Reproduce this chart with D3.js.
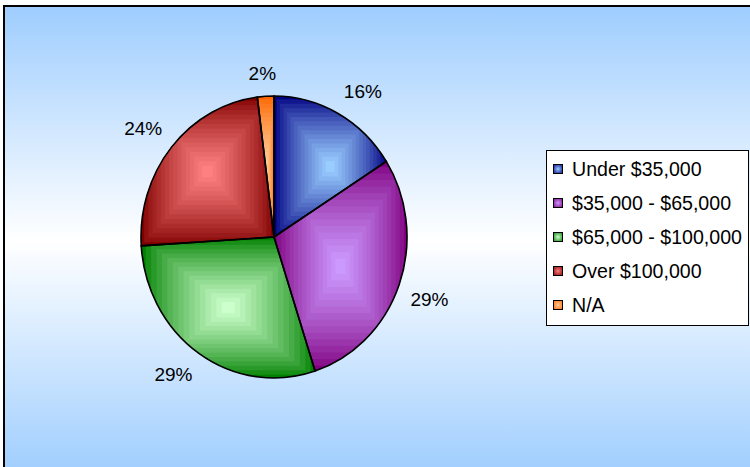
<!DOCTYPE html>
<html>
<head>
<meta charset="utf-8">
<script src="https://cdn.jsdelivr.net/npm/d3@7"></script>
<style>
  html, body { margin: 0; padding: 0; background: #fff; }
  svg { display: block; font-family: "Liberation Sans", Arial, sans-serif; }
</style>
</head>
<body>
<svg id="chart" width="750" height="467"></svg>
<script>
// data
var categories = ["Under $35,000", "$35,000 - $65,000", "$65,000 - $100,000", "Over $100,000", "N/A"];
var values = [16, 29, 29, 24, 2];
var pctLabels = ["16%", "29%", "29%", "24%", "2%"];

// slice colours: dark at the edge, light in the middle
var edgeCols = ["#000080", "#800080", "#008000", "#800000", "#ff6600"];
var midCols = ["#99ccff", "#cc99ff", "#ccffcc", "#ff8080", "#ffcc99"];

var svg = d3.select("#chart");
var defs = svg.append("defs");

var bg = defs.append("linearGradient")
    .attr("id", "bg").attr("x1", 0).attr("y1", 0).attr("x2", 0).attr("y2", 1);
bg.append("stop").attr("offset", "0%").attr("stop-color", "#9ecdfe");
bg.append("stop").attr("offset", "50%").attr("stop-color", "#ffffff");
bg.append("stop").attr("offset", "100%").attr("stop-color", "#9ecdfe");

svg.append("rect")
    .attr("x", 4).attr("y", 6).attr("width", 770).attr("height", 470)
    .style("fill", "url(#bg)")
    .style("stroke", "#000")
    .style("stroke-width", 2);

var cx = 274, cy = 237, rx = 133, ry = 141;

var pie = d3.pie().sort(null).value(function(d) { return d; });
var arcs = pie(values);
var arc = d3.arc().innerRadius(0).outerRadius(rx);

var g = svg.append("g")
    .attr("transform", "translate(" + cx + "," + cy + ") scale(1," + (ry / rx) + ")");

var nBands = 16;

arcs.forEach(function(d, i) {
    var clipId = "clip" + i;
    defs.append("clipPath").attr("id", clipId)
	.append("path").attr("d", arc(d));
    // bounding box of the slice, sampled along the arc
    var xs = [0], ys = [0];
    for (var k = 0; k <= 60; k++) {
	var a = d.startAngle + (d.endAngle - d.startAngle) * k / 60;
	xs.push(rx * Math.sin(a));
	ys.push(-rx * Math.cos(a));
    }
    var x0 = d3.min(xs), x1 = d3.max(xs), y0 = d3.min(ys), y1 = d3.max(ys);
    var mx = (x0 + x1) / 2, my = (y0 + y1) / 2;
    var col = d3.interpolateRgb(edgeCols[i], midCols[i]);
    var sg = g.append("g").attr("clip-path", "url(#" + clipId + ")");
    d3.range(nBands).forEach(function(b) {
	var t = b / nBands;
	var w = (x1 - x0) * (1 - t), h = (y1 - y0) * (1 - t);
	sg.append("rect")
	    .attr("x", mx - w / 2 - 1).attr("y", my - h / 2 - 1)
	    .attr("width", w + 2).attr("height", h + 2)
	    .style("fill", col(Math.pow(b / (nBands - 1), 0.8)));
    });
});

g.selectAll("path.slice")
    .data(arcs)
    .enter().append("path")
    .attr("class", "slice")
    .attr("d", arc)
    .style("fill", "none")
    .style("stroke", "#000")
    .style("stroke-width", 1.6)
    .attr("vector-effect", "non-scaling-stroke");

// percentage labels: box pushed out from the rim like excel does
function clamp(v) { return Math.max(-1, Math.min(1, v)); }
var gap = 12, halfH = 11;
svg.selectAll("text.pct")
    .data(arcs)
    .enter().append("text")
    .attr("class", "pct")
    .attr("text-anchor", "middle")
    .attr("dominant-baseline", "central")
    .style("font-size", "19px")
    .style("fill", "#000")
    .text(function(d, i) { return pctLabels[i]; })
    .each(function(d) {
	var a = (d.startAngle + d.endAngle) / 2;
	var s = Math.sin(a), c = Math.cos(a);
	var halfW = this.getComputedTextLength() / 2;
	var ex = cx + rx * s, ey = cy - ry * c;
	d3.select(this)
	    .attr("x", ex + gap * s + halfW * clamp(s * 3))
	    .attr("y", ey - gap * c - halfH * clamp(c * 3));
    });

// legend
var leg = svg.append("g");
leg.append("rect")
    .attr("x", 546.5).attr("y", 150.5).attr("width", 202).attr("height", 175)
    .style("fill", "#fff").style("stroke", "#000").style("stroke-width", 1);

categories.forEach(function(c, i) {
    var gr = defs.append("radialGradient").attr("id", "lg" + i);
    gr.append("stop").attr("offset", "0%").attr("stop-color", midCols[i]);
    gr.append("stop").attr("offset", "100%").attr("stop-color", d3.interpolateRgb(edgeCols[i], midCols[i])(0.3));
});

var rowY = d3.scaleLinear().domain([0, 4]).range([169, 305]);
var items = leg.selectAll("g.item")
    .data(categories)
    .enter().append("g")
    .attr("class", "item")
    .attr("transform", function(d, i) { return "translate(0," + rowY(i) + ")"; });
items.append("rect")
    .attr("x", 553.5).attr("y", -4.5).attr("width", 9).attr("height", 9)
    .style("fill", function(d, i) { return "url(#lg" + i + ")"; })
    .style("stroke", "#000").style("stroke-width", 1);
items.append("text")
    .attr("x", 572).attr("y", 0)
    .attr("dominant-baseline", "central")
    .style("font-size", "19.6px")
    .style("fill", "#000")
    .text(function(d) { return d; });
</script>
</body>
</html>
